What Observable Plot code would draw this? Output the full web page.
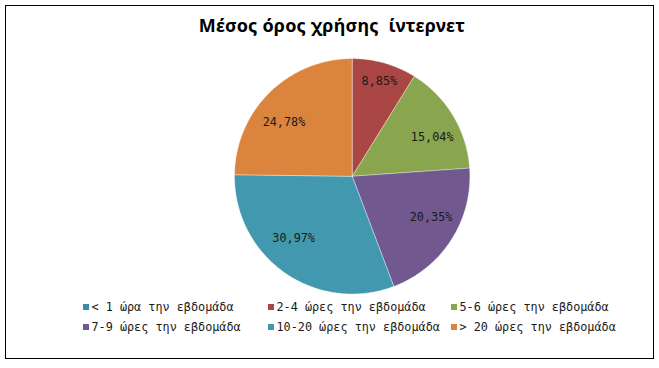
<!DOCTYPE html>
<html>
<head>
<meta charset="utf-8">
<script src="https://cdn.jsdelivr.net/npm/d3@7"></script>
<script src="https://cdn.jsdelivr.net/npm/@observablehq/plot@0.6"></script>
<style>
  html, body { margin: 0; padding: 0; background: #fff; }
  #wrap { position: relative; width: 659px; height: 368px; overflow: hidden; }
  #frame { position: absolute; left: 5px; top: 5px; width: 649px; height: 354px; border: 1px solid #000; box-sizing: border-box; }
  #title { position: absolute; left: 0; width: 664px; top: 13px; text-align: center; white-space: pre;
           font-family: "Noto Sans", sans-serif; font-weight: bold; font-size: 18px; letter-spacing: 0.2px; color: #000; }
  #chart { position: absolute; left: 0; top: 0; }
  #legend { position: absolute; left: 83px; top: 300px; font-family: "DejaVu Sans Mono", monospace; font-size: 11.8px; color: #1a1a1a; }
  .item { position: absolute; white-space: nowrap; line-height: 15px; }
  .sw { display: inline-block; width: 6px; height: 6px; margin-right: 2.5px; vertical-align: 1px; }
</style>
</head>
<body>
<div id="wrap">
  <div id="frame"></div>
  <div id="chart"></div>
  <div id="title"></div>
  <div id="legend"></div>
</div>
<script>
const title = "Μέσος όρος χρήσης  ίντερνετ";
const categories = [
  "< 1 ώρα την εβδομάδα",
  "2-4 ώρες την εβδομάδα",
  "5-6 ώρες την εβδομάδα",
  "7-9 ώρες την εβδομάδα",
  "10-20 ώρες την εβδομάδα",
  "> 20 ώρες την εβδομάδα"
];
const values = [0, 8.85, 15.04, 20.35, 30.97, 24.78];
const labels = ["0,00%", "8,85%", "15,04%", "20,35%", "30,97%", "24,78%"];
const colors = ["#3E8AA6", "#AA4643", "#89A54E", "#71588F", "#4198AF", "#DB843D"];

const data = categories.map((c, i) => ({category: c, value: values[i], label: labels[i]}));
const arcs = d3.pie().sort(null).value(d => d.value)(data);

// polygon points for each slice on the unit circle (angle 0 = 12 o'clock, clockwise)
const pts = [];
arcs.forEach(a => {
  if (a.endAngle - a.startAngle <= 0) return;
  const n = Math.max(2, Math.ceil((a.endAngle - a.startAngle) / (Math.PI / 180)));
  pts.push({category: a.data.category, x: 0, y: 0});
  for (let k = 0; k <= n; k++) {
    const t = a.startAngle + (a.endAngle - a.startAngle) * k / n;
    pts.push({category: a.data.category, x: Math.sin(t), y: Math.cos(t)});
  }
  pts.push({category: a.data.category, x: 0, y: 0});
});
// "best fit"-like label placement: narrow slices push labels outward,
// wide slices keep them nearer the centre and shifted horizontally outward
const labelPts = arcs.filter(a => a.data.value > 0).map(a => {
  const m = (a.startAngle + a.endAngle) / 2;
  const narrow = (a.endAngle - a.startAngle) < 0.6;
  const rho = narrow ? 0.84 : 0.645;
  const s = Math.sin(m);
  const shift = narrow ? 0 : Math.sign(s) * 0.127;
  return {label: a.data.label, x: rho * s + shift, y: rho * Math.cos(m)};
});

const cx = 351.7, cy = 175.8, r = 117.7;
const chart = Plot.plot({
  width: 659,
  height: 368,
  margin: 0,
  style: {background: "transparent"},
  x: {domain: [-1, 1], range: [cx - r, cx + r], axis: null},
  y: {domain: [-1, 1], range: [cy + r, cy - r], axis: null},
  color: {domain: categories, range: colors},
  marks: [
    Plot.line(pts, {x: "x", y: "y", z: "category", fill: "category", stroke: "#ffffff", strokeWidth: 0.6, strokeOpacity: 0.6, curve: "linear"}),
    Plot.text(labelPts, {x: "x", y: "y", text: "label", fill: "#1a1a1a", fontSize: 11.8, fontFamily: "DejaVu Sans Mono, monospace"})
  ]
});
document.getElementById("chart").appendChild(chart);
document.getElementById("title").textContent = title;

const legend = document.getElementById("legend");
const colX = [0, 185, 368];
categories.forEach((c, i) => {
  const el = document.createElement("div");
  el.className = "item";
  el.style.left = colX[i % 3] + "px";
  el.style.top = Math.floor(i / 3) * 20 + "px";
  el.innerHTML = `<span class="sw" style="background:${colors[i]}"></span>`;
  el.appendChild(document.createTextNode(c));
  legend.appendChild(el);
});
</script>
</body>
</html>
